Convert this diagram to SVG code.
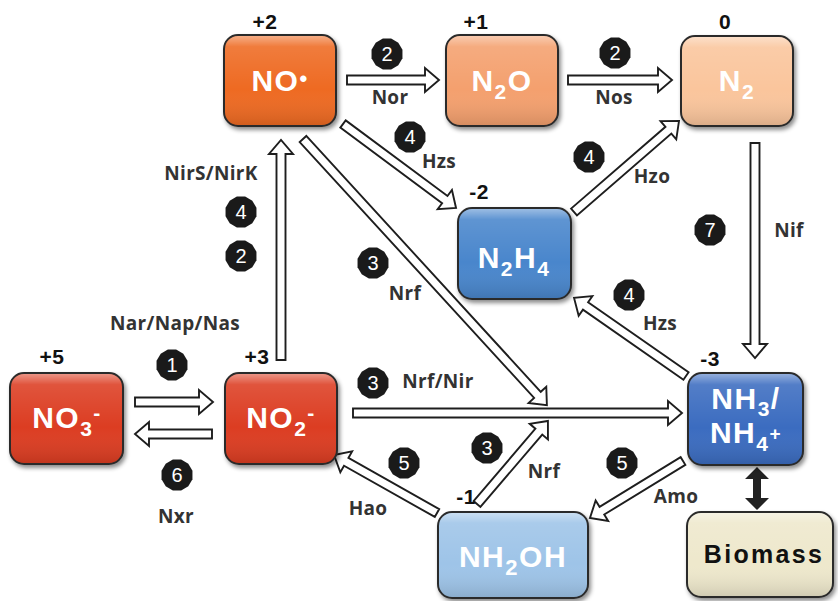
<svg xmlns="http://www.w3.org/2000/svg" xmlns:xlink="http://www.w3.org/1999/xlink" width="838" height="601" viewBox="0 0 838 601">
  <defs>
    <style>
      .node rect.box { stroke: #2b2b2b; stroke-width: 2; }
      .node rect.gloss { fill: url(#gloss); }
      .ntxt { font-family: "Liberation Sans", Arial, sans-serif; font-weight: bold; font-size: 30px; fill: #ffffff; text-anchor: middle; letter-spacing: 1.5px; }
      .ox { font-family: "Liberation Sans", Arial, sans-serif; font-weight: bold; font-size: 21px; fill: #111111; text-anchor: middle; letter-spacing: 0.5px; }
      .lab { font-family: "Open Sans", "Liberation Sans", sans-serif; font-weight: 700; font-size: 19px; fill: #333333; text-anchor: middle; letter-spacing: 0.3px; }
      .num { font-family: "Liberation Sans", Arial, sans-serif; font-size: 20px; fill: #ffffff; text-anchor: middle; }
      .arr { fill: #ffffff; stroke: #1e1e1e; stroke-width: 1.9; stroke-linejoin: miter; }
      .badge { fill: #1a1a1a; }
    </style>
    <linearGradient id="gloss" x1="0" y1="0" x2="0" y2="1">
      <stop offset="0" stop-color="#ffffff" stop-opacity="0.45"/>
      <stop offset="0.12" stop-color="#ffffff" stop-opacity="0.12"/>
      <stop offset="0.6" stop-color="#ffffff" stop-opacity="0"/>
      <stop offset="1" stop-color="#000000" stop-opacity="0.12"/>
    </linearGradient>
    <filter id="shadow" x="-10%" y="-10%" width="130%" height="130%">
      <feDropShadow dx="2" dy="3" stdDeviation="2" flood-color="#000000" flood-opacity="0.45"/>
    </filter>
    <!-- twelve-sided badge, radius 16 -->
    <polygon id="oct" class="badge" points="15.45,4.14 11.31,11.31 4.14,15.45 -4.14,15.45 -11.31,11.31 -15.45,4.14 -15.45,-4.14 -11.31,-11.31 -4.14,-15.45 4.14,-15.45 11.31,-11.31 15.45,-4.14"/>
  </defs>

  <rect width="838" height="601" fill="#ffffff"/>

  <!-- connectors: hollow block arrows drawn along +x, then placed -->
  <g id="connectors">
    <path class="arr" d="M0,-4.5 H78 V-12 L92,0 L78,12 V4.5 H0 Z" transform="translate(347,80)"/>
    <path class="arr" d="M0,-4.5 H90 V-12 L104,0 L90,12 V4.5 H0 Z" transform="translate(568,80)"/>
    <path class="arr" d="M0,-4.5 H64 V-12 L78,0 L64,12 V4.5 H0 Z" transform="translate(135,402)"/>
    <path class="arr" d="M0,-4.5 H63 V-12 L77,0 L63,12 V4.5 H0 Z" transform="translate(212,434) rotate(180)"/>
    <path class="arr" d="M0,-4.5 H206 V-12 L220,0 L206,12 V4.5 H0 Z" transform="translate(281,360) rotate(-90)"/>
    <path class="arr" d="M0,-4.5 H126.8 V-12 L140.8,0 L126.8,12 V4.5 H0 Z" transform="translate(343,124) rotate(36.6)"/>
    <path class="arr" d="M0,-4.5 H347 V-12 L361,0 L347,12 V4.5 H0 Z" transform="translate(303,139) rotate(47.5)"/>
    <path class="arr" d="M0,-4.5 H95.2 V-12 L109.2,0 L95.2,12 V4.5 H0 Z" transform="translate(477,504) rotate(-49.5)"/>
    <path class="arr" d="M0,-4.5 H315 V-12 L329,0 L315,12 V4.5 H0 Z" transform="translate(353,413)"/>
    <path class="arr" d="M0,-4.5 H104.2 V-12 L118.2,0 L104.2,12 V4.5 H0 Z" transform="translate(437,513) rotate(-150.6)"/>
    <path class="arr" d="M0,-4.5 H95.1 V-12 L109.1,0 L95.1,12 V4.5 H0 Z" transform="translate(683,461) rotate(148.5)"/>
    <path class="arr" d="M0,-4.5 H124.9 V-12 L138.9,0 L124.9,12 V4.5 H0 Z" transform="translate(574,212) rotate(-40.9)"/>
    <path class="arr" d="M0,-4.5 H122.5 V-12 L136.5,0 L122.5,12 V4.5 H0 Z" transform="translate(686,376) rotate(-145.1)"/>
    <path class="arr" d="M0,-4.5 H201 V-12 L215,0 L201,12 V4.5 H0 Z" transform="translate(755,143) rotate(90)"/>
    <!-- ammonium <-> biomass exchange -->
    <path d="M757,467 L769,479 L761,479 L761,498 L769,498 L757,510 L745,498 L753,498 L753,479 L745,479 Z" fill="#222222"/>
  </g>

  <!-- enzyme labels -->
  <g id="enzyme-labels">
    <text class="lab" x="390" y="104">Nor</text>
    <text class="lab" x="614" y="104">Nos</text>
    <text class="lab" x="439" y="168">Hzs</text>
    <text class="lab" x="652" y="183">Hzo</text>
    <text class="lab" x="211" y="180">NirS/NirK</text>
    <text class="lab" x="405" y="300">Nrf</text>
    <text class="lab" x="789" y="237">Nif</text>
    <text class="lab" x="660" y="330">Hzs</text>
    <text class="lab" x="175" y="330">Nar/Nap/Nas</text>
    <text class="lab" x="438" y="388">Nrf/Nir</text>
    <text class="lab" x="176" y="523">Nxr</text>
    <text class="lab" x="368" y="515">Hao</text>
    <text class="lab" x="544" y="478">Nrf</text>
    <text class="lab" x="676" y="503">Amo</text>
  </g>

  <!-- pathway number badges -->
  <g id="badges">
    <use xlink:href="#oct" href="#oct" x="387" y="54"/><text class="num" x="387" y="61">2</text>
    <use xlink:href="#oct" href="#oct" x="615" y="53"/><text class="num" x="615" y="60">2</text>
    <use xlink:href="#oct" href="#oct" x="410" y="137"/><text class="num" x="410" y="144">4</text>
    <use xlink:href="#oct" href="#oct" x="589" y="157"/><text class="num" x="589" y="164">4</text>
    <use xlink:href="#oct" href="#oct" x="241" y="212"/><text class="num" x="241" y="219">4</text>
    <use xlink:href="#oct" href="#oct" x="241" y="256"/><text class="num" x="241" y="263">2</text>
    <use xlink:href="#oct" href="#oct" x="373" y="263"/><text class="num" x="373" y="270">3</text>
    <use xlink:href="#oct" href="#oct" x="710" y="230"/><text class="num" x="710" y="237">7</text>
    <use xlink:href="#oct" href="#oct" x="629" y="295"/><text class="num" x="629" y="302">4</text>
    <use xlink:href="#oct" href="#oct" x="172" y="365"/><text class="num" x="172" y="372">1</text>
    <use xlink:href="#oct" href="#oct" x="373" y="383"/><text class="num" x="373" y="390">3</text>
    <use xlink:href="#oct" href="#oct" x="177" y="475"/><text class="num" x="177" y="482">6</text>
    <use xlink:href="#oct" href="#oct" x="404" y="463"/><text class="num" x="404" y="470">5</text>
    <use xlink:href="#oct" href="#oct" x="487" y="448"/><text class="num" x="487" y="455">3</text>
    <use xlink:href="#oct" href="#oct" x="622" y="463"/><text class="num" x="622" y="470">5</text>
  </g>

  <!-- oxidation states -->
  <g id="oxidation-states">
    <text class="ox" x="265" y="29">+2</text>
    <text class="ox" x="476" y="29">+1</text>
    <text class="ox" x="725" y="29">0</text>
    <text class="ox" x="479" y="199">-2</text>
    <text class="ox" x="52" y="364">+5</text>
    <text class="ox" x="257" y="364">+3</text>
    <text class="ox" x="710" y="366">-3</text>
    <text class="ox" x="466" y="504">-1</text>
  </g>

  <!-- nitrogen species -->
  <g id="node-NO" class="node">
    <rect class="box" x="224" y="35" width="112" height="91" rx="14" fill="#ee6a24" filter="url(#shadow)"/>
    <rect class="gloss" x="225" y="36" width="110" height="89" rx="13"/>
    <text class="ntxt" x="280" y="91">NO<tspan font-size="22" dy="-5">•</tspan></text>
  </g>
  <g id="node-N2O" class="node">
    <rect class="box" x="446" y="35" width="112" height="91" rx="14" fill="#f4a06e" filter="url(#shadow)"/>
    <rect class="gloss" x="447" y="36" width="110" height="89" rx="13"/>
    <text class="ntxt" x="502" y="91">N<tspan font-size="21" dy="8">2</tspan><tspan dy="-8">O</tspan></text>
  </g>
  <g id="node-N2" class="node">
    <rect class="box" x="681" y="36" width="112" height="90" rx="14" fill="#fac59c" filter="url(#shadow)"/>
    <rect class="gloss" x="682" y="37" width="110" height="88" rx="13"/>
    <text class="ntxt" x="737" y="91">N<tspan font-size="21" dy="8">2</tspan></text>
  </g>
  <g id="node-N2H4" class="node">
    <rect class="box" x="458" y="208" width="113" height="91" rx="14" fill="#4a86cc" filter="url(#shadow)"/>
    <rect class="gloss" x="459" y="209" width="111" height="89" rx="13"/>
    <text class="ntxt" x="514" y="268">N<tspan font-size="21" dy="8">2</tspan><tspan dy="-8">H</tspan><tspan font-size="21" dy="8">4</tspan></text>
  </g>
  <g id="node-NO3" class="node">
    <rect class="box" x="10" y="373" width="113" height="91" rx="14" fill="#dc3e20" filter="url(#shadow)"/>
    <rect class="gloss" x="11" y="374" width="111" height="89" rx="13"/>
    <text class="ntxt" x="67" y="428">NO<tspan font-size="21" dy="8">3</tspan><tspan font-size="21" dy="-16">-</tspan></text>
  </g>
  <g id="node-NO2" class="node">
    <rect class="box" x="225" y="373" width="112" height="91" rx="14" fill="#dc3e20" filter="url(#shadow)"/>
    <rect class="gloss" x="226" y="374" width="110" height="89" rx="13"/>
    <text class="ntxt" x="281" y="428">NO<tspan font-size="21" dy="8">2</tspan><tspan font-size="21" dy="-16">-</tspan></text>
  </g>
  <g id="node-NH3" class="node">
    <rect class="box" x="688" y="373" width="115" height="92" rx="14" fill="#3a6cc0" filter="url(#shadow)"/>
    <rect class="gloss" x="689" y="374" width="113" height="90" rx="13"/>
    <text class="ntxt" x="746" y="409">NH<tspan font-size="21" dy="7">3</tspan><tspan dy="-7">/</tspan></text>
    <text class="ntxt" x="746" y="443">NH<tspan font-size="21" dy="8">4</tspan><tspan font-size="19" dy="-11">+</tspan></text>
  </g>
  <g id="node-NH2OH" class="node">
    <rect class="box" x="438" y="512" width="150" height="86" rx="14" fill="#9ec4e8" filter="url(#shadow)"/>
    <rect class="gloss" x="439" y="513" width="148" height="84" rx="13"/>
    <text class="ntxt" x="513" y="567" font-size="32" letter-spacing="2">NH<tspan font-size="22" dy="8">2</tspan><tspan dy="-8">OH</tspan></text>
  </g>
  <g id="node-biomass" class="node">
    <rect class="box" x="687" y="512" width="146" height="85" rx="14" fill="#eee8cc" filter="url(#shadow)"/>
    <rect class="gloss" x="688" y="513" width="144" height="83" rx="13"/>
    <text x="764" y="563" font-family="Liberation Sans, Arial, sans-serif" font-weight="bold" font-size="25" fill="#111111" text-anchor="middle" letter-spacing="2.3">Biomass</text>
  </g>
</svg>
